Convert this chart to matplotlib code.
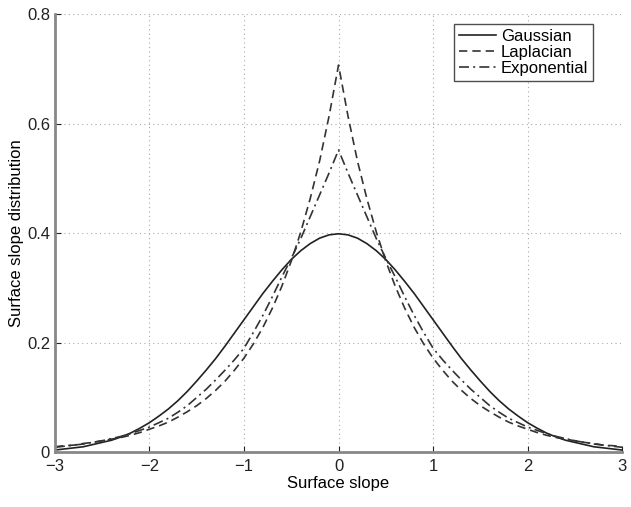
import matplotlib
matplotlib.use("Agg")
import matplotlib.pyplot as plt

plt.rcParams['font.family'] = ['Liberation Sans', 'DejaVu Sans']

slope = [-3.0, -2.9, -2.8, -2.7, -2.6, -2.5, -2.4, -2.3, -2.2, -2.1,
         -2.0, -1.9, -1.8, -1.7, -1.6, -1.5, -1.4, -1.3, -1.2, -1.1,
         -1.0, -0.9, -0.8, -0.7, -0.6, -0.5, -0.4, -0.3, -0.2, -0.1,
         0.0,
         0.1, 0.2, 0.3, 0.4, 0.5, 0.6, 0.7, 0.8, 0.9, 1.0,
         1.1, 1.2, 1.3, 1.4, 1.5, 1.6, 1.7, 1.8, 1.9, 2.0,
         2.1, 2.2, 2.3, 2.4, 2.5, 2.6, 2.7, 2.8, 2.9, 3.0]

gaussian = [0.004, 0.006, 0.008, 0.010, 0.014, 0.018, 0.022, 0.028, 0.035, 0.044,
            0.054, 0.066, 0.079, 0.094, 0.111, 0.130, 0.150, 0.171, 0.194, 0.218,
            0.242, 0.266, 0.290, 0.312, 0.333, 0.352, 0.368, 0.381, 0.391, 0.397,
            0.399,
            0.397, 0.391, 0.381, 0.368, 0.352, 0.333, 0.312, 0.290, 0.266, 0.242,
            0.218, 0.194, 0.171, 0.150, 0.130, 0.111, 0.094, 0.079, 0.066, 0.054,
            0.044, 0.035, 0.028, 0.022, 0.018, 0.014, 0.010, 0.008, 0.006, 0.004]

laplacian = [0.010, 0.012, 0.013, 0.016, 0.018, 0.021, 0.024, 0.027, 0.031, 0.036,
             0.042, 0.048, 0.055, 0.064, 0.074, 0.085, 0.098, 0.113, 0.130, 0.150,
             0.172, 0.198, 0.228, 0.263, 0.303, 0.349, 0.402, 0.463, 0.532, 0.614,
             0.707,
             0.614, 0.532, 0.463, 0.402, 0.349, 0.303, 0.263, 0.228, 0.198, 0.172,
             0.150, 0.130, 0.113, 0.098, 0.085, 0.074, 0.064, 0.055, 0.048, 0.042,
             0.036, 0.031, 0.027, 0.024, 0.021, 0.018, 0.016, 0.013, 0.012, 0.010]

exponential = [0.009, 0.011, 0.013, 0.015, 0.018, 0.021, 0.025, 0.029, 0.034, 0.040,
               0.046, 0.054, 0.062, 0.073, 0.085, 0.100, 0.115, 0.132, 0.150, 0.169,
               0.190, 0.219, 0.250, 0.284, 0.320, 0.354, 0.390, 0.430, 0.470, 0.510,
               0.552,
               0.510, 0.470, 0.430, 0.390, 0.354, 0.320, 0.284, 0.250, 0.219, 0.190,
               0.169, 0.150, 0.132, 0.115, 0.100, 0.085, 0.073, 0.062, 0.054, 0.046,
               0.040, 0.034, 0.029, 0.025, 0.021, 0.018, 0.015, 0.013, 0.011, 0.009]

x_ticks = [-3, -2, -1, 0, 1, 2, 3]
x_tick_labels = ['\u22123', '\u22122', '\u22121', '0', '1', '2', '3']
y_ticks = [0, 0.2, 0.4, 0.6, 0.8]
y_tick_labels = ['0', '0.2', '0.4', '0.6', '0.8']

fig = plt.figure(figsize=(6.31, 5.07), dpi=100)
ax = fig.add_axes([0.087, 0.108, 0.899, 0.864])

ax.plot(slope, gaussian, color='#222222', lw=1.2, ls='-', label='Gaussian')
ax.plot(slope, laplacian, color='#333333', lw=1.2, ls=(0, (5, 3)), label='Laplacian')
ax.plot(slope, exponential, color='#333333', lw=1.2, ls=(0, (6, 2.5, 1.2, 2.5)), label='Exponential')

ax.set_xlim(-3, 3)
ax.set_ylim(0, 0.8)
ax.set_xticks(x_ticks)
ax.set_xticklabels(x_tick_labels)
ax.set_yticks(y_ticks)
ax.set_yticklabels(y_tick_labels)
ax.tick_params(direction='in', length=4, labelsize=12, colors='#222222', width=0.8)
ax.tick_params(axis='x', pad=5)
ax.grid(True, ls=(0, (1, 3)), color='#aaaaaa', lw=0.8)

for side in ('top', 'right'):
    ax.spines[side].set_visible(False)
for side in ('left', 'bottom'):
    ax.spines[side].set_color('#888888')
    ax.spines[side].set_linewidth(2.0)

ax.set_xlabel('Surface slope', fontsize=12, labelpad=1)
ax.set_ylabel('Surface slope distribution', fontsize=12, labelpad=2)

leg = ax.legend(loc='upper right', bbox_to_anchor=(0.955, 0.985), fontsize=12,
                frameon=True, fancybox=False, handlelength=2.2, handletextpad=0.3,
                labelspacing=0.05, borderpad=0.3, borderaxespad=0.2)
leg.get_frame().set_edgecolor('#222222')
leg.get_frame().set_linewidth(1.0)

fig.savefig('out.png', dpi=100)
